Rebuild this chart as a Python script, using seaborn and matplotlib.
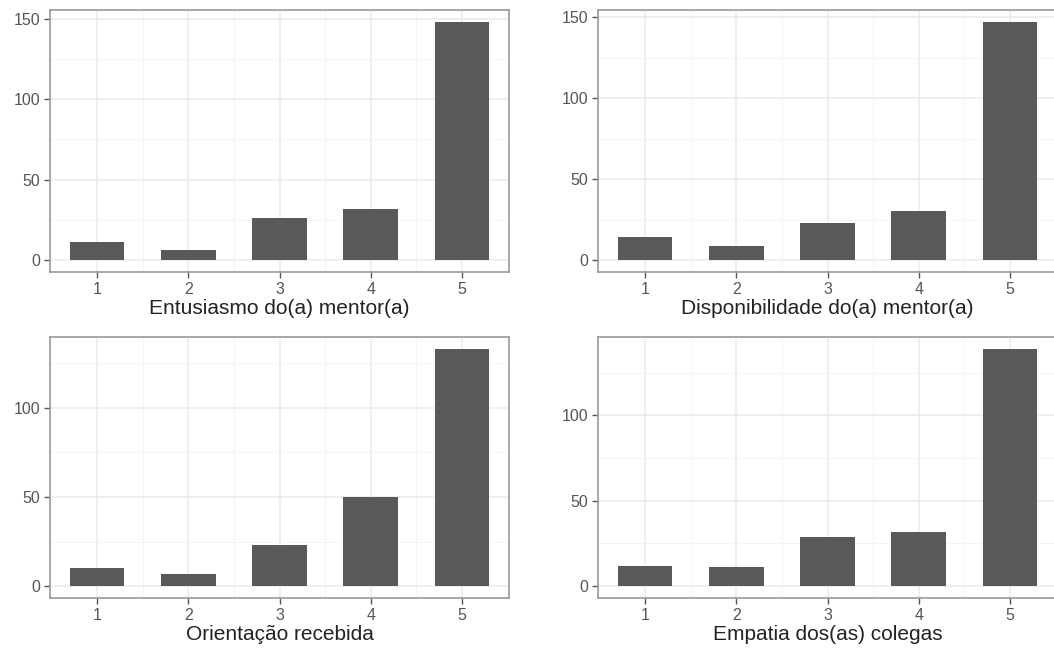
import matplotlib
matplotlib.use("Agg")
import matplotlib.pyplot as plt
import seaborn as sns
from matplotlib.ticker import MultipleLocator, FixedLocator

# notas 1-5 e contagens de cada pergunta
notas = ["1", "2", "3", "4", "5"]
entusiasmo = [11, 6, 26, 32, 148]
disponibilidade = [14, 9, 23, 30, 147]
orientacao = [10, 7, 23, 50, 133]
empatia = [12, 11, 29, 32, 139]

titulos = ["Entusiasmo do(a) mentor(a)", "Disponibilidade do(a) mentor(a)",
           "Orientação recebida", "Empatia dos(as) colegas"]
series = [entusiasmo, disponibilidade, orientacao, empatia]

sns.set_style("white")
plt.rcParams['font.family'] = ['Liberation Sans', 'DejaVu Sans']

W, H = 1054, 650
fig = plt.figure(figsize=(W / 100, H / 100), dpi=100)

# caixas dos paineis em pixels (esq, dir, topo, base)
caixas = [(50, 509, 10, 272), (598, 1057, 10, 272),
          (50, 509, 337, 598), (598, 1057, 337, 598)]

for (l, r, t, b), titulo, vals in zip(caixas, titulos, series):
    ax = fig.add_axes([l / W, 1 - b / H, (r - l) / W, (b - t) / H])
    sns.barplot(x=notas, y=vals, color="#595959", width=0.6,
                saturation=1, linewidth=0, ax=ax)
    top = max(vals)
    ax.set_ylim(-0.05 * top, 1.05 * top)
    ax.set_xlim(-0.515, 4.515)
    ax.yaxis.set_major_locator(MultipleLocator(50))
    ax.yaxis.set_minor_locator(FixedLocator([25, 75, 125]))
    ax.xaxis.set_minor_locator(FixedLocator([0.5, 1.5, 2.5, 3.5]))
    ax.grid(True, which="major", color="#EBEBEB", linewidth=1.1)
    ax.grid(True, which="minor", color="#F2F2F2", linewidth=0.6)
    ax.set_axisbelow(True)
    for s in ax.spines.values():
        s.set_color("#9a9a9a")
        s.set_linewidth(1.2)
    ax.tick_params(which="major", bottom=True, left=True, length=4,
                   width=1, color="#555555", labelsize=11.5,
                   labelcolor="#555555", pad=3)
    ax.tick_params(which="minor", length=0)
    ax.set_xlabel(titulo, fontsize=15, color="#222222", labelpad=2)
    ax.set_ylabel("")

fig.savefig("out.png", dpi=100)
